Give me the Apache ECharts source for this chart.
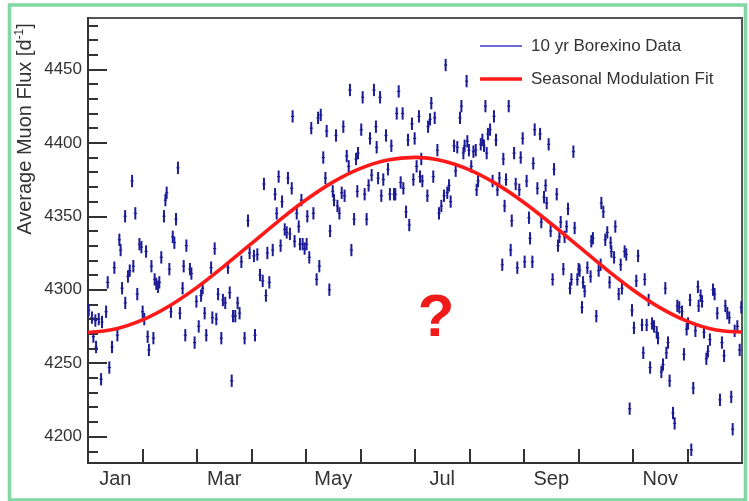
<!DOCTYPE html>
<html>
<head>
<meta charset="utf-8">
<script src="https://cdn.jsdelivr.net/npm/echarts@6/dist/echarts.min.js"></script>
<style>
  html, body { margin: 0; padding: 0; background: #ffffff; }
  #chart { width: 749px; height: 501px; }
</style>
</head>
<body>
<div id="chart"></div>
<script>
// Day of year (0..365) of each folded daily point
const obsDay = [
  0.4, 2.2, 4.1, 6.0, 7.8, 3.0, 4.5, 10.1, 11.0, 7.3, 11.9, 13.4, 14.7, 16.4, 17.5, 18.2, 19.0, 20.8, 20.7, 22.3,
  23.3, 24.6, 25.3, 26.4, 27.5, 28.7, 29.8, 30.5, 31.4, 32.4, 33.3, 34.0, 35.4, 36.5, 37.2, 38.1, 39.1, 39.8, 40.9, 42.4,
  43.2, 43.9, 45.4, 46.3, 47.3, 48.2, 49.1, 50.2, 51.3, 52.8, 53.4, 54.3, 54.9, 56.9, 57.7, 59.5, 60.5, 61.8, 63.1, 64.0,
  65.1, 66.0, 68.7, 69.4, 70.7, 71.6, 72.6, 74.4, 75.3, 76.6, 78.1, 79.1, 80.2, 80.9, 82.2, 83.5, 84.6, 85.6, 87.4, 89.3,
  90.2,
  92.6, 94.5, 96.0, 97.5, 99.3, 101.2, 93.2, 98.2, 100.1, 103.1, 104.4, 105.3, 106.4, 107.5, 108.3, 109.8, 110.9, 111.6, 112.7, 113.7,
  114.2, 115.3, 116.5, 117.6, 118.3, 119.1, 119.8, 120.9, 122.0, 122.4, 123.5, 124.6, 125.8, 127.6, 128.4, 129.1, 129.9, 131.3, 132.5, 133.2,
  134.7, 135.1, 136.6, 137.3, 138.4, 139.2, 140.3, 141.6, 142.5, 143.2, 144.4, 145.5, 146.2, 147.0, 148.5, 149.6, 150.7, 150.3, 152.5, 153.3,
  154.4, 155.5, 156.6, 157.4, 158.3, 159.6, 160.7, 161.1, 161.9, 163.0, 163.7, 164.8, 166.3, 167.4, 168.5, 169.3, 170.8, 171.5, 172.3, 173.4,
  174.5, 175.6, 176.0, 177.5, 178.6, 179.3, 180.8, 181.6, 182.3,
  184.7, 183.4, 185.3, 186.6, 186.0, 189.4, 189.8, 190.9, 191.6, 192.7, 193.5, 195.0, 195.9, 197.2, 198.7, 199.6, 200.5, 201.5, 202.4, 204.3,
  205.2, 206.1, 207.6, 208.4, 209.5, 210.2, 211.3, 211.7, 212.6, 213.9, 215.1, 216.4, 216.9, 217.7, 219.2, 220.1, 221.0, 221.8, 222.5, 223.2,
  224.4, 225.8, 226.6, 227.7, 228.5, 229.6, 231.2, 231.8, 232.5, 233.3, 234.8, 235.9, 236.5, 237.8, 238.7, 239.6, 240.7, 241.5, 242.6, 243.7,
  244.8, 246.1, 246.7, 248.0, 248.5, 249.3, 250.8, 252.3, 253.0, 254.5, 255.4, 256.0, 257.1, 258.2, 259.3, 260.1, 261.6, 262.3, 263.1, 263.8,
  265.3, 266.0, 267.1, 267.9, 269.0, 269.8, 270.9, 271.6, 273.1, 273.8,
  286.5, 287.6, 289.8, 288.7, 291.7, 294.3, 281.8, 280.9, 274.4, 276.3, 277.2, 275.7, 278.7, 280.5, 283.7, 285.0, 286.1, 291.1, 292.1, 293.6,
  296.2, 297.3, 298.0, 299.5, 300.4, 302.3, 303.6, 304.7, 306.0, 307.0, 309.2, 309.9, 310.7, 311.8, 312.9, 313.7, 314.8, 315.9, 317.4, 318.1,
  320.0, 320.9, 322.2, 322.8, 323.7, 324.6, 326.5, 327.4, 328.9, 330.0, 331.5, 332.6, 334.1, 334.9, 336.0, 336.7, 337.8, 339.0, 340.4, 340.8,
  341.9, 342.7, 343.8, 345.1, 346.0, 347.1, 348.8, 349.7, 351.2, 352.7, 353.8, 355.0, 355.7, 356.8, 357.9, 359.0, 359.8, 360.9, 362.4, 363.7,
  364.6
];

// Average muon flux per day [d^-1]
const obsFlux = [
  4286, 4281, 4279, 4280, 4278, 4268, 4261, 4285, 4305, 4239, 4247, 4261, 4315, 4269, 4334, 4327, 4301, 4291, 4350, 4309,
  4313, 4374, 4316, 4352, 4297, 4331, 4329, 4285, 4280, 4326, 4268, 4259, 4316, 4267, 4307, 4304, 4302, 4305, 4322, 4350,
  4361, 4366, 4314, 4285, 4336, 4332, 4348, 4383, 4284, 4301, 4316, 4269, 4330, 4314, 4311, 4264, 4292, 4275, 4296, 4301,
  4284, 4269, 4315, 4281, 4328, 4280, 4297, 4267, 4293, 4291, 4315, 4298, 4238, 4282, 4282, 4291, 4284, 4319, 4267, 4347,
  4325,
  4323, 4324, 4310, 4306, 4296, 4305, 4269, 4372, 4325, 4327, 4365, 4352, 4377, 4330, 4360, 4341, 4339, 4376, 4338, 4369,
  4418, 4333, 4352, 4343, 4331, 4361, 4331, 4328, 4331, 4350, 4322, 4410, 4352, 4307, 4417, 4316, 4419, 4390, 4376, 4408,
  4300, 4340, 4367, 4361, 4405, 4357, 4352, 4366, 4411, 4364, 4391, 4384, 4436, 4327, 4348, 4389, 4393, 4367, 4409, 4431,
  4365, 4348, 4371, 4403, 4378, 4436, 4411, 4397, 4376, 4431, 4364, 4375, 4405, 4382, 4365, 4398, 4365, 4365, 4420, 4435,
  4373, 4420, 4369, 4353, 4402, 4344, 4413, 4375, 4403,
  4418, 4384, 4377, 4374, 4389, 4364, 4411, 4416, 4427, 4377, 4417, 4395, 4352, 4357, 4364, 4453, 4366, 4371, 4360, 4398,
  4381, 4397, 4417, 4425, 4393, 4398, 4442, 4401, 4395, 4384, 4394, 4395, 4368, 4374, 4399, 4402, 4398, 4425, 4393, 4406,
  4409, 4374, 4418, 4402, 4368, 4376, 4317, 4389, 4357, 4375, 4425, 4327, 4347, 4393, 4372, 4315, 4368, 4390, 4403, 4319,
  4374, 4349, 4335, 4319, 4386, 4409, 4369, 4406, 4346, 4363, 4371, 4359, 4399, 4340, 4307, 4382, 4365, 4330, 4336, 4346,
  4314, 4336, 4343, 4355, 4301, 4307, 4394, 4342, 4307, 4314,
  4359, 4353, 4339, 4334, 4332, 4343, 4335, 4333, 4313, 4305, 4299, 4288, 4315, 4309, 4282, 4313, 4317, 4305, 4326, 4322,
  4297, 4317, 4301, 4326, 4324, 4219, 4286, 4274, 4306, 4323, 4276, 4257, 4307, 4276, 4293, 4247, 4277, 4275, 4271, 4267,
  4244, 4249, 4301, 4257, 4264, 4238, 4216, 4209, 4289, 4288, 4285, 4256, 4273, 4277, 4293, 4191, 4233, 4272, 4302, 4289,
  4296, 4292, 4271, 4253, 4258, 4266, 4300, 4297, 4284, 4225, 4264, 4255, 4289, 4284, 4281, 4227, 4205, 4272, 4275, 4259,
  4288
];

// Half-widths of the error bars
const fluxErr = 4.2;   // d^-1
const dayErr = 0.5;    // days

// Seasonal modulation fit, sampled twice per month
const fitDay = [0, 15.2, 30.4, 45.6, 60.8, 76.0, 91.3, 106.5, 121.7, 136.9, 152.1, 167.3, 182.5,
                197.7, 212.9, 228.1, 243.3, 258.5, 273.8, 289.0, 304.2, 319.4, 334.6, 349.8, 365];
const fitFlux = [4270.9, 4273.2, 4279.4, 4289.1, 4301.6, 4316.1, 4331.5, 4346.9, 4361.2, 4373.4, 4382.6, 4388.3, 4390.1,
                 4387.8, 4381.6, 4371.9, 4359.4, 4344.9, 4329.5, 4314.1, 4299.8, 4287.6, 4278.4, 4272.7, 4271.2];

// Axis ticks and labels
const monthNames = ['Jan', 'Feb', 'Mar', 'Apr', 'May', 'Jun', 'Jul', 'Aug', 'Sep', 'Oct', 'Nov', 'Dec'];
const labelledMonths = [0, 2, 4, 6, 8, 10];
const fluxMajorTicks = [4200, 4250, 4300, 4350, 4400, 4450];
const fluxMinorTicks = [4190, 4200, 4210, 4220, 4230, 4240, 4250, 4260, 4270, 4280, 4290, 4300, 4310, 4320, 4330,
                        4340, 4350, 4360, 4370, 4380, 4390, 4400, 4410, 4420, 4430, 4440, 4450, 4460, 4470, 4480];
const fluxMin = 4182;
const fluxMax = 4485;
const yearDays = 365;

const monthLen = yearDays / 12;
const monthEdges = [];
for (let k = 1; k < 12; k++) monthEdges.push(k * monthLen);
const monthCentres = labelledMonths.map(m => (m + 0.5) * monthLen);

const FONT = "'Liberation Sans', Arial, Helvetica, sans-serif";
const INK = '#333333';
const BAR = '#1c1c96';

const chart = echarts.init(document.getElementById('chart'), null, { renderer: 'canvas' });

chart.setOption({
  animation: false,
  backgroundColor: '#ffffff',
  textStyle: { fontFamily: FONT },
  grid: {
    left: 88, right: 7, top: 18, bottom: 38,
    show: true, borderColor: '#555555', borderWidth: 2, backgroundColor: 'transparent'
  },
  legend: {
    orient: 'vertical',
    left: 475, top: 31,
    itemWidth: 42, itemHeight: 14, itemGap: 13,
    selectedMode: false,
    symbolKeepAspect: true,
    textStyle: { fontSize: 17, color: INK, fontFamily: FONT, lineHeight: 20, padding: [0, 0, 0, 4] },
    data: [
      { name: '10 yr Borexino Data', icon: 'path://M0,0L42,0L42,1.6L0,1.6Z' },
      { name: 'Seasonal Modulation Fit', icon: 'path://M0,0L42,0L42,3.6L0,3.6Z' }
    ]
  },
  xAxis: {
    type: 'value', min: 0, max: yearDays,
    splitLine: { show: false },
    axisLine: { show: true, onZero: false, lineStyle: { color: INK, width: 2 } },
    axisTick: { show: true, inside: true, length: 14, customValues: monthEdges, lineStyle: { color: INK, width: 2 } },
    axisLabel: {
      customValues: monthCentres, fontSize: 20, color: INK, margin: 6, fontFamily: FONT,
      formatter: v => monthNames[Math.floor(v / monthLen)]
    }
  },
  yAxis: [
    {
      type: 'value', min: fluxMin, max: fluxMax,
      splitLine: { show: false },
      axisLine: { show: true, onZero: false, lineStyle: { color: INK, width: 2 } },
      axisTick: { show: true, inside: true, length: 19, customValues: fluxMajorTicks, lineStyle: { color: INK, width: 2 } },
      axisLabel: {
        customValues: fluxMajorTicks, fontSize: 17, color: INK, margin: 6, fontFamily: FONT,
        formatter: v => String(Math.round(v))
      }
    },
    {
      type: 'value', min: fluxMin, max: fluxMax, position: 'left',
      splitLine: { show: false },
      axisLine: { show: false },
      axisTick: { show: true, inside: true, length: 10, customValues: fluxMinorTicks, lineStyle: { color: INK, width: 2 } },
      axisLabel: { show: false }
    }
  ],
  series: [
    {
      name: '10 yr Borexino Data',
      type: 'custom',
      xAxisIndex: 0, yAxisIndex: 0,
      itemStyle: { color: '#3a3ac4' },
      encode: { x: 0, y: 1 },
      data: obsDay.map((d, i) => [d, obsFlux[i]]),
      renderItem: function (params, api) {
        const d = api.value(0), f = api.value(1);
        const top = api.coord([d, f + fluxErr]);
        const bot = api.coord([d, f - fluxErr]);
        const lft = api.coord([d - dayErr, f]);
        const rgt = api.coord([d + dayErr, f]);
        return {
          type: 'group',
          children: [
            { type: 'line', shape: { x1: top[0], y1: top[1], x2: bot[0], y2: bot[1] },
              style: { stroke: BAR, lineWidth: 2 } },
            { type: 'line', shape: { x1: lft[0] - 0.7, y1: lft[1], x2: rgt[0] + 0.7, y2: rgt[1] },
              style: { stroke: BAR, lineWidth: 1.2 } }
          ]
        };
      },
      z: 2
    },
    {
      name: 'Seasonal Modulation Fit',
      type: 'line',
      xAxisIndex: 0, yAxisIndex: 0,
      data: fitDay.map((d, i) => [d, fitFlux[i]]),
      smooth: 0.35,
      showSymbol: false,
      symbol: 'none',
      color: '#ff1a1a',
      lineStyle: { color: '#ff1a1a', width: 3.6 },
      z: 3
    }
  ],
  graphic: [
    {
      type: 'rect', silent: true,
      shape: { x: 9.5, y: 5, width: 736, height: 495 },
      style: { fill: 'none', stroke: '#82d7a4', lineWidth: 3.5 }
    },
    {
      type: 'text', silent: true,
      x: 25, y: 129, rotation: Math.PI / 2,
      style: {
        text: '{n|Average Muon Flux [d}{s|-1}{n|]}',
        align: 'center', verticalAlign: 'middle',
        rich: {
          n: { fontSize: 20, fontFamily: FONT, fill: INK, lineHeight: 22 },
          s: { fontSize: 12, fontFamily: FONT, fill: INK, lineHeight: 22, verticalAlign: 'top' }
        }
      }
    },
    {
      type: 'text', silent: true,
      x: 436, y: 319,
      style: {
        text: '?', fontSize: 60, fontWeight: 'bold', fontFamily: FONT, fill: '#ef1b1b',
        align: 'center', verticalAlign: 'middle'
      }
    }
  ]
});
</script>
</body>
</html>
